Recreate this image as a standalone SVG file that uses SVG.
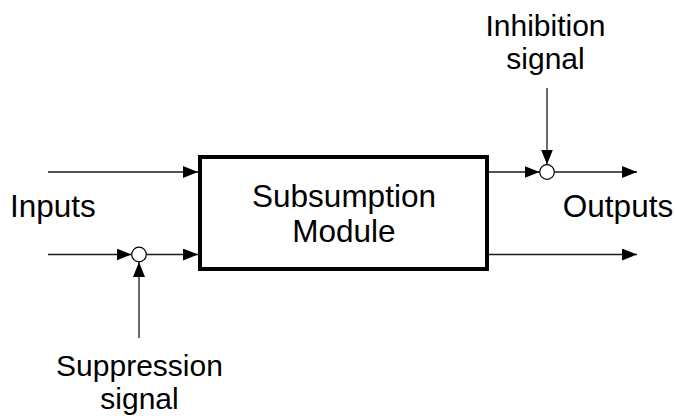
<svg xmlns="http://www.w3.org/2000/svg" width="675" height="416" viewBox="0 0 675 416">
  <style>
    .lbl { font-family: "Liberation Sans", Arial, sans-serif; font-size: 31.5px; fill: #000; }
    .sig { font-size: 30px; }
    .mid { text-anchor: middle; }
    .wire { fill: none; stroke: #1a1a1a; stroke-width: 1.3; }
    .junction { fill: #fff; stroke: #000; stroke-width: 1.2; }
    .box { fill: #fff; stroke: #000; stroke-width: 4; }
  </style>
  <defs>
    <marker id="arrow" viewBox="0 0 15 12" refX="15" refY="6" markerWidth="15" markerHeight="12" markerUnits="userSpaceOnUse" orient="auto">
      <path d="M0,0 L15,6 L0,12 Z" fill="#000"/>
    </marker>
  </defs>
  <rect width="675" height="416" fill="#fff"/>

  <g id="connectors">
    <path class="wire" d="M48,172 H198" marker-end="url(#arrow)"/>
    <path class="wire" d="M48,254.5 H131.5" marker-end="url(#arrow)"/>
    <path class="wire" d="M146.5,254.5 H198" marker-end="url(#arrow)"/>
    <path class="wire" d="M139,338 V262" marker-end="url(#arrow)"/>
    <path class="wire" d="M487,172 H539.5" marker-end="url(#arrow)"/>
    <path class="wire" d="M554.5,172 H637" marker-end="url(#arrow)"/>
    <path class="wire" d="M547,88 V164.5" marker-end="url(#arrow)"/>
    <path class="wire" d="M487,254.5 H637" marker-end="url(#arrow)"/>
  </g>

  <g id="module">
    <rect class="box" x="200" y="157" width="287" height="112"/>
    <text class="lbl mid" x="344" y="207">Subsumption</text>
    <text class="lbl mid" x="344" y="242">Module</text>
  </g>

  <g id="suppressor">
    <circle class="junction" cx="139" cy="254.5" r="7.3"/>
  </g>

  <g id="inhibitor">
    <circle class="junction" cx="547" cy="172" r="7.3"/>
  </g>

  <g id="inputs-label">
    <text class="lbl" x="10" y="216.5">Inputs</text>
  </g>

  <g id="outputs-label">
    <text class="lbl mid" x="618" y="216.5">Outputs</text>
  </g>

  <g id="inhibition-label">
    <text class="lbl sig mid" x="545.5" y="35.5">Inhibition</text>
    <text class="lbl sig mid" x="545.5" y="69">signal</text>
  </g>

  <g id="suppression-label">
    <text class="lbl sig mid" x="139.5" y="375.5">Suppression</text>
    <text class="lbl sig mid" x="139.5" y="409">signal</text>
  </g>
</svg>
